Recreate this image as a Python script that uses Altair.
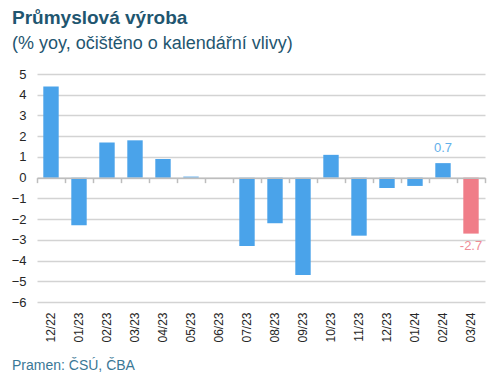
import altair as alt
import pandas as pd

months = ["12/22", "01/23", "02/23", "03/23", "04/23", "05/23", "06/23", "07/23",
          "08/23", "09/23", "10/23", "11/23", "12/23", "01/24", "02/24", "03/24"]
values = [4.4, -2.3, 1.7, 1.8, 0.9, 0.05, 0.0, -3.3,
          -2.2, -4.7, 1.1, -2.8, -0.5, -0.4, 0.7, -2.7]
labels = ["", "", "", "", "", "", "", "",
          "", "", "", "", "", "", "0.7", "-2.7"]
highlight = "03/24"
y_ticks = [-6, -5, -4, -3, -2, -1, 0, 1, 2, 3, 4, 5]
title_text = "Průmyslová výroba"
subtitle_text = "\u2009(% yoy, očištěno o kalendářní vlivy)"
source_text = "Pramen: ČSÚ, ČBA"

df = pd.DataFrame({"month": months, "value": values, "label": labels})
src = pd.DataFrame({"t": [source_text]})

W, H = 448, 228
ymin, ymax = min(y_ticks), max(y_ticks)
zero_offset = -H * (0 - ymin) / (ymax - ymin)

FONT = "Liberation Sans"
BLUE = "#4AA3EA"
RED = "#F07D88"
BLUE_TXT = "#62B0EA"
RED_TXT = "#F08C96"
TEAL = "#1F5670"
GRID = "#D3D3D3"
color_cond = alt.condition(alt.datum.month == highlight, alt.value(RED), alt.value(BLUE))
text_color_cond = alt.condition(alt.datum.month == highlight, alt.value(RED_TXT),
                                alt.value(BLUE_TXT))

y_axis = alt.Axis(values=y_ticks, title=None, domain=False, ticks=False,
                  labelPadding=11, labelFontSize=13, labelColor="#262626",
                  labelFont=FONT, gridColor=GRID, gridWidth=1.5, tickCount=12,
                  labelOverlap=False)
y_scale = alt.Scale(domain=[ymin, ymax], nice=False, zero=False)


def y_enc():
    return alt.Y("value:Q", scale=y_scale, axis=y_axis)


bars = alt.Chart(df).mark_bar(width=alt.RelativeBandSize(0.55)).encode(
    x=alt.X("month:N", sort=months,
            scale=alt.Scale(paddingInner=0, paddingOuter=0),
            axis=alt.Axis(title=None, orient="bottom", labelAngle=-90, domain=False,
                          ticks=False, grid=False, labelPadding=10, labelFontSize=12,
                          labelColor="#262626", labelFont=FONT)),
    y=y_enc(),
    color=color_cond,
)

pos_labels = alt.Chart(df).transform_filter(
    (alt.datum.label != "") & (alt.datum.value >= 0)
).mark_text(fontSize=13, font=FONT, baseline="middle", dy=-15).encode(
    x=alt.X("month:N", sort=months,
            axis=alt.Axis(title=None, orient="bottom", offset=zero_offset, labels=False,
                          domain=True, ticks=True, tickBand="extent", tickSize=5,
                          tickColor="#BDBDBD", tickWidth=1.5, domainColor="#BDBDBD",
                          domainWidth=1.5, grid=False, zindex=1)),
    y=y_enc(),
    text="label:N",
    color=text_color_cond,
)

neg_labels = alt.Chart(df).transform_filter(
    (alt.datum.label != "") & (alt.datum.value < 0)
).mark_text(fontSize=13, font=FONT, baseline="middle", dy=12).encode(
    x=alt.X("month:N", sort=months, axis=None),
    y=y_enc(),
    text="label:N",
    color=text_color_cond,
)

footer = alt.Chart(src).mark_text(fontSize=14, font=FONT, align="left",
                                  baseline="middle", color="#3A7896").encode(
    x=alt.value(-25), y=alt.value(292), text="t:N")

chart = alt.layer(bars, pos_labels, neg_labels, footer).resolve_axis(
    x="independent"
).properties(
    width=W, height=H,
    title=alt.TitleParams(text=title_text, subtitle=subtitle_text, anchor="start",
                          frame="group", dx=-25, offset=15, fontSize=19, font=FONT,
                          fontWeight="bold", color=TEAL, subtitleFont=FONT,
                          subtitleFontSize=18, subtitleColor=TEAL, subtitlePadding=7),
    padding={"left": 29, "top": 66, "right": 7, "bottom": 76},
    autosize=alt.AutoSizeParams(type="none"),
).configure_view(stroke=None)

chart.save("out.html", embed_options={"renderer": "svg", "actions": False})
